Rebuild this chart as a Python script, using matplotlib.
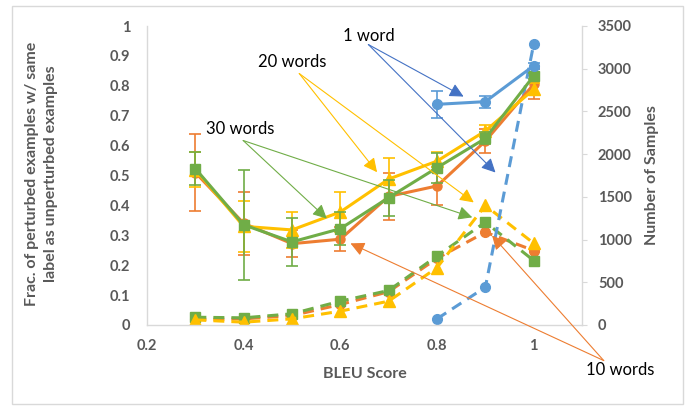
import matplotlib
matplotlib.use("Agg")
import matplotlib.pyplot as plt
from matplotlib.patches import Rectangle

plt.rcParams['font.family'] = ['Lato', 'DejaVu Sans']

# ---------------- data ----------------
x_all = [0.3, 0.4, 0.5, 0.6, 0.7, 0.8, 0.9, 1.0]
x_1w = [0.8, 0.9, 1.0]

# fraction with same label (left axis)
frac_1w = [0.738, 0.747, 0.867]
err_1w = [0.045, 0.02, 0.01]
frac_10w = [0.51, 0.34, 0.272, 0.287, 0.43, 0.465, 0.615, 0.805]
err_10w = [0.13, 0.105, 0.045, 0.04, 0.08, 0.065, 0.04, 0.05]
frac_20w = [0.52, 0.33, 0.318, 0.378, 0.488, 0.548, 0.649, 0.788]
err_20w = [0.06, 0.085, 0.06, 0.066, 0.07, 0.03, 0.02, 0.02]
frac_30w = [0.523, 0.335, 0.278, 0.322, 0.426, 0.526, 0.624, 0.833]
err_30w = [0.055, 0.185, 0.08, 0.056, 0.06, 0.05, 0.02, 0.01]

# number of samples (right axis)
n_1w = [72, 442, 3286]
n_10w = [65, 72, 110, 240, 390, 780, 1086, 872]
n_20w = [60, 33, 72, 162, 279, 671, 1399, 957]
n_30w = [91, 84, 131, 279, 404, 808, 1203, 755]

xticks = [0.2, 0.4, 0.6, 0.8, 1.0]
xtick_labels = ['0.2', '0.4', '0.6', '0.8', '1']
yticks_left = [0, 0.1, 0.2, 0.3, 0.4, 0.5, 0.6, 0.7, 0.8, 0.9, 1.0]
ytick_left_labels = ['0', '0.1', '0.2', '0.3', '0.4', '0.5', '0.6', '0.7', '0.8', '0.9', '1']
yticks_right = [0, 500, 1000, 1500, 2000, 2500, 3000, 3500]

BLUE = '#5B9BD5'
BLUE_D = '#4472C4'
ORANGE = '#ED7D31'
YELLOW = '#FFC000'
GREEN = '#70AD47'
GRAY = '#595959'
AXC = '#D9D9D9'

fig = plt.figure(figsize=(6.88, 4.07), dpi=100)
ax = fig.add_axes([147/688, 1-325/407, 435/688, 299/407])
ax2 = ax.twinx()

# ---- dashed series (right axis) ----
dash = (0, (3.6, 2.3))
ax2.plot(x_all, n_10w, color=ORANGE, lw=2.2, ls=dash, marker='o', ms=7, zorder=2)
ax2.plot(x_all, n_20w, color=YELLOW, lw=2.2, ls=dash, marker='^', ms=8, zorder=3)
ax2.plot(x_all, n_30w, color=GREEN, lw=2.2, ls=dash, marker='s', ms=7.5, zorder=2.5)
ax2.plot(x_1w, n_1w, color=BLUE, lw=2.2, ls=dash, marker='o', ms=7, zorder=4)

# ---- solid series (left axis) ----
ax.set_zorder(ax2.get_zorder() + 1)
ax.patch.set_visible(False)
ekw = dict(elinewidth=1.2, capsize=4.5, capthick=1.2)
ax.errorbar(x_1w, frac_1w, yerr=err_1w, color=BLUE, lw=2.2, marker='o', ms=7, **ekw, zorder=5)
ax.errorbar(x_all, frac_10w, yerr=err_10w, color=ORANGE, lw=2.2, marker='o', ms=6.5, **ekw, zorder=2)
ax.errorbar(x_all, frac_20w, yerr=err_20w, color=YELLOW, lw=2.2, marker='^', ms=8, **ekw, zorder=3)
ax.errorbar(x_all, frac_30w, yerr=err_30w, color=GREEN, lw=2.2, marker='s', ms=7.5, **ekw, zorder=4)

# ---- axes styling ----
ax.set_xlim(0.2, 1.1)
ax.set_ylim(0, 1)
ax2.set_ylim(0, 3500)
ax.set_xticks(xticks)
ax.set_xticklabels(xtick_labels)
ax.set_yticks(yticks_left)
ax.set_yticklabels(ytick_left_labels)
ax2.set_yticks(yticks_right)
ax2.set_yticklabels([str(v) for v in yticks_right])

for a in (ax, ax2):
    for s in a.spines.values():
        s.set_visible(False)
ax.spines['left'].set_visible(True)
ax.spines['bottom'].set_visible(True)
ax2.spines['right'].set_visible(True)
for s in (ax.spines['left'], ax.spines['bottom'], ax2.spines['right']):
    s.set_color(AXC)
    s.set_linewidth(1.0)

ax.tick_params(axis='y', length=0, pad=12)
ax.tick_params(axis='x', length=0, pad=10)
ax2.tick_params(axis='y', length=3.5, color=AXC, pad=8)
for lab in ax.get_xticklabels() + ax.get_yticklabels() + ax2.get_yticklabels():
    lab.set_fontsize(10.5)
    lab.set_fontweight('bold')
    lab.set_color(GRAY)

ax.set_xlabel('BLEU Score', fontsize=11.5, fontweight='bold', color=GRAY)
ax.xaxis.set_label_coords(0.5, -0.14)
ax.set_ylabel('Frac. of perturbed examples w/ same\nlabel as unperturbed examples',
              fontsize=11.5, fontweight='bold', color=GRAY, linespacing=1.4)
ax.yaxis.set_label_coords(-0.205, 0.505)
ax2.set_ylabel('Number of Samples', fontsize=11.5, fontweight='bold', color=GRAY)
ax2.yaxis.set_label_coords(1.145, 0.5)

# ---- annotations ----
afont = dict(fontsize=12, color='black', ha='center', va='center')

def arrows(origin, targets, color):
    for t in targets:
        ax.annotate('', xy=t, xytext=origin, xycoords='data', textcoords='data',
                    annotation_clip=False,
                    arrowprops=dict(arrowstyle='-|>,head_length=0.6,head_width=0.3',
                                    color=color, lw=0.8, shrinkA=0, shrinkB=0,
                                    mutation_scale=14), zorder=6)

ax.text(0.658, 0.968, '1 word', **afont)
arrows((0.658, 0.938), [(0.855, 0.764), (0.921, 0.510)], BLUE_D)
ax.text(0.5005, 0.878, '20 words', **afont)
arrows((0.515, 0.841), [(0.676, 0.511), (0.876, 0.410)], YELLOW)
ax.text(0.393, 0.657, '30 words', **afont)
arrows((0.399, 0.617), [(0.572, 0.356), (0.873, 0.360)], GREEN)
ax.text(1.180, -0.152, '10 words', clip_on=False, **afont)
arrows((1.145, -0.119), [(0.621, 0.273), (0.914, 0.299)], ORANGE)

# figure border
fig.patches.append(Rectangle((12/688, 3/407), 671/688, 398/407, transform=fig.transFigure,
                             fill=False, edgecolor=AXC, lw=1.0))

fig.savefig('out.png', dpi=100)
